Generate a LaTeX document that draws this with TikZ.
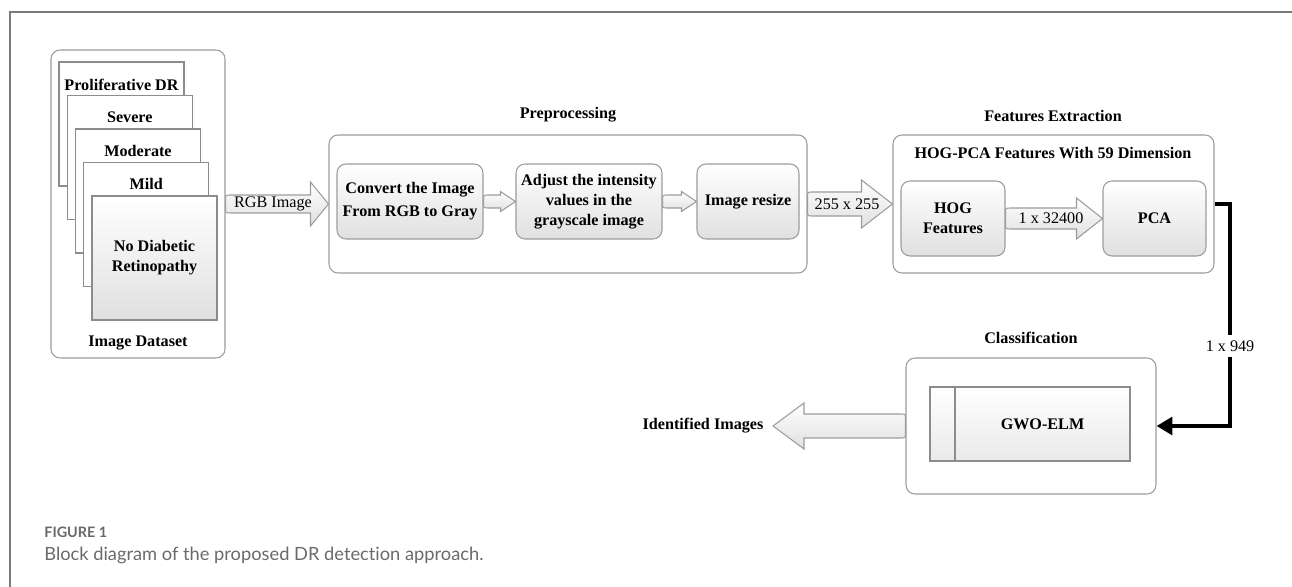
\documentclass[tikz,border=0pt]{standalone}
\usepackage{fontspec}
\setmainfont{Liberation Serif}
\newfontfamily\capfont[Ligatures={NoCommon,NoRare}]{Lato}
\usetikzlibrary{arrows.meta,calc}

\definecolor{edge}{HTML}{9C9C9C}
\definecolor{cardedge}{HTML}{8C8C8C}
\definecolor{framecol}{HTML}{7A7A7A}
\definecolor{captxt}{HTML}{6A6A6A}
\definecolor{shadebot}{HTML}{E0E0E0}

% one drawing unit
\newcommand\pxl{0.02cm}

% block arrow with a rounded tail: #1 direction (1 right, -1 left), #2 tail, #3 tip,
% #4 half body height, #5 half head height, #6 head length, #7 label, #8 label shift
\newcommand\fatarrow[8]{%
  \path[fatarrowstyle] let \p1=(#2), \p2=(#3) in
    ({\x1+#1*5*\pxl},{\y2+#4*\pxl}) -- ({\x2-#1*#6*\pxl},{\y2+#4*\pxl})
    -- ({\x2-#1*#6*\pxl},{\y2+#5*\pxl}) -- (\x2,\y2)
    -- ({\x2-#1*#6*\pxl},{\y2-#5*\pxl}) -- ({\x2-#1*#6*\pxl},{\y2-#4*\pxl})
    -- ({\x1+#1*5*\pxl},{\y2-#4*\pxl})
    .. controls (\x1,{\y2-#4*\pxl}) .. (\x1,{\y2-#4*\pxl+5*\pxl})
    -- (\x1,{\y2+#4*\pxl-5*\pxl})
    .. controls (\x1,{\y2+#4*\pxl}) .. ({\x1+#1*5*\pxl},{\y2+#4*\pxl}) -- cycle
    node[arrowlabel] at ({(\x1+\x2)/2+#8*\pxl},\y2) {#7};%
}

\begin{document}
\begin{tikzpicture}[x=0.02cm,y=-0.02cm,
  every node/.style={font=\fontsize{9.2}{11.4}\selectfont\bfseries, inner sep=0pt},
  groupbox/.style={draw=edge, line width=0.6pt, fill=white, rounded corners=9*\pxl},
  procbox/.style={draw=edge, line width=0.6pt, rounded corners=9*\pxl,
    top color=white, bottom color=shadebot, align=center},
  card/.style={draw=cardedge, line width=0.6pt, fill=white,
    minimum width=125*\pxl, minimum height=124*\pxl},
  frontcard/.style={card, top color=white, bottom color=shadebot},
  heading/.style={font=\fontsize{9.2}{11.4}\selectfont\bfseries},
  fatarrowstyle/.style={draw=edge, line width=0.6pt, top color=white, bottom color=shadebot},
  arrowlabel/.style={font=\fontsize{9.2}{11.4}\selectfont},
  link/.style={line width=2.4pt, line join=miter, -{Triangle[length=9pt,width=10pt]}}
]
\useasboundingbox (0,0) rectangle (1292,587);

% figure frame
\draw[framecol, line width=0.6pt] (10,587) -- (10,12) -- (1292,12);

% image dataset with the stack of class folders
\node[groupbox, minimum width=174*\pxl, minimum height=308*\pxl] (ds) at (138,204) {};
\node[card] (c1) at (121.5,124) {};
\node at ($(c1.north)+(0,23)$) {Proliferative DR};
\node[card] (c2) at (129.75,157.5) {};
\node at ($(c2.north)+(0,22.5)$) {Severe};
\node[card] (c3) at (138,191) {};
\node at ($(c3.north)+(0,23)$) {Moderate};
\node[card] (c4) at (146.25,224.5) {};
\node at ($(c4.north)+(0,22.5)$) {Mild};
\node[frontcard, align=center] (c5) at (154.5,258) {No Diabetic\\Retinopathy};
\node (dslabel) at (138,343) {Image Dataset};

% preprocessing stage
\node[heading] (prehead) at (568,115) {Preprocessing};
\node[groupbox, minimum width=478*\pxl, minimum height=138*\pxl] (pre) at (568,204) {};
\node[procbox, minimum width=146*\pxl, minimum height=75*\pxl,
  font=\fontsize{9.2}{13}\selectfont\bfseries] (conv) at (410,201.5)
  {Convert the Image\\From RGB to Gray};
\node[procbox, minimum width=146*\pxl, minimum height=75*\pxl] (adj) at (589,201.5)
  {Adjust the intensity\\values in the\\grayscale image};
\node[procbox, minimum width=102*\pxl, minimum height=75*\pxl] (resize) at (748,201.5)
  {Image resize};

% feature extraction stage
\node[heading] (feathead) at (1053,116) {Features Extraction};
\node[groupbox, minimum width=321*\pxl, minimum height=138*\pxl] (feat) at (1053.5,204) {};
\node (feattitle) at (1053,153) {HOG-PCA Features With 59 Dimension};
\node[procbox, minimum width=104*\pxl, minimum height=75*\pxl] (hog) at (953,218.5)
  {HOG\\Features};
\node[procbox, minimum width=103*\pxl, minimum height=75*\pxl] (pca) at (1154.5,218.5)
  {PCA};

% classification stage
\node[heading] (clshead) at (1031,338) {Classification};
\node[groupbox, minimum width=250*\pxl, minimum height=136*\pxl] (cls) at (1031,426) {};
\node[draw=cardedge, line width=0.6pt, top color=white, bottom color=shadebot!70,
  minimum width=200*\pxl, minimum height=74*\pxl] (elm) at (1030,424) {};
\draw[cardedge, line width=0.6pt] (955,387) -- (955,461);
\node (elmlabel) at (1042.5,424) {GWO-ELM};

% output label
\node (idlabel) at (703,426) {Identified Images};
\coordinate (idtip) at (773,426);

% block arrows between the stages
\fatarrow{1}{ds.east}{pre.west}{9}{22}{18}{RGB Image}{-4}
\fatarrow{1}{conv.east}{adj.west}{6.5}{10}{15}{}{0}
\fatarrow{1}{adj.east}{resize.west}{6.5}{10}{15}{}{0}
\fatarrow{1}{pre.east}{feat.west}{12}{24}{31}{255 x 255}{-3}
\fatarrow{1}{hog.east}{pca.west}{10.5}{20.5}{26}{1 x 32400}{-3}
\fatarrow{-1}{cls.west}{idtip}{12}{23}{31}{}{0}

% feature vector into the classifier
\coordinate (turn) at (1230,204);
\draw[link] (feat.east) -- (turn) |- node[pos=0.32, fill=white, inner ysep=3pt,
  font=\fontsize{9.2}{11.4}\selectfont] (vec) {1 x 949} (cls.east);

% caption
\node[anchor=west, font=\capfont\fontsize{8.2}{9}\selectfont\bfseries, text=captxt]
  (fig) at (44,532) {FIGURE 1};
\node[anchor=west, font=\capfont\fontsize{10.4}{12}\selectfont, text=captxt]
  (cap) at (44,555) {Block diagram of the proposed DR detection approach.};
\end{tikzpicture}
\end{document}
